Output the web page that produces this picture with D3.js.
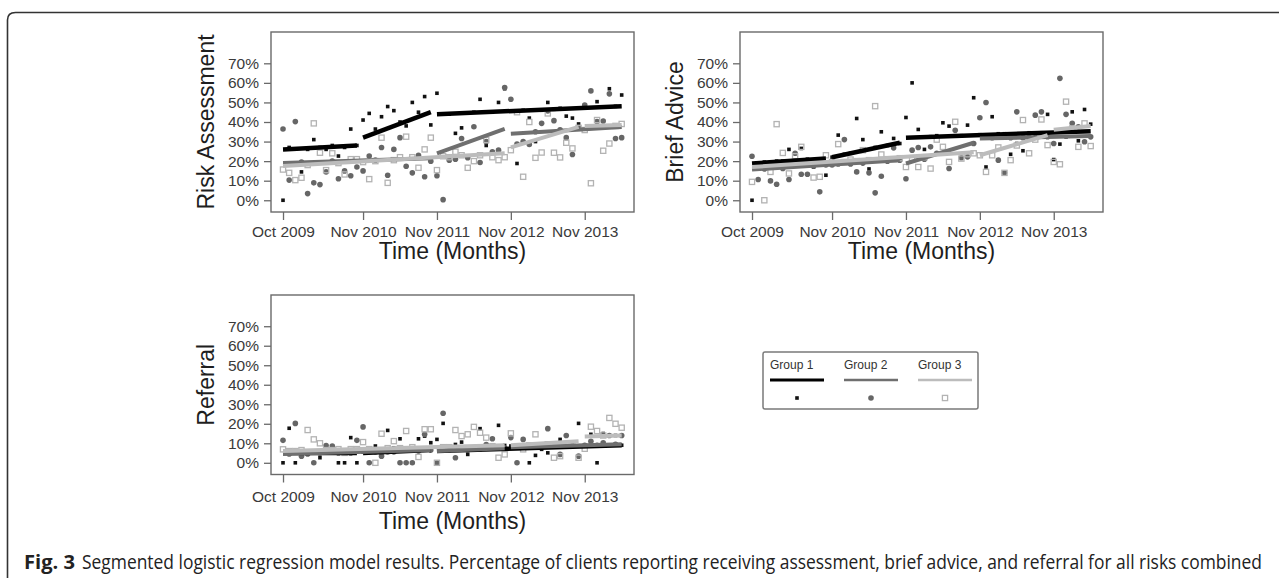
<!DOCTYPE html>
<meta charset="utf-8">
<style>
    body { margin: 0; background: #fff; }
    svg { display: block; font-family: "Liberation Sans", Arial, sans-serif; }
    .axis-title { font-size: 23px; fill: #1e1e1e; }
    .legend-text { font-size: 12px; fill: #333; }
    .caption { font-family: "Open Sans", sans-serif; font-size: 16px; fill: #222; }
</style>
<svg width="1279" height="578"></svg>
<script src="https://d3js.org/d3.v7.min.js"></script>
<script>
    // monthly percentages, index 0 = Oct 2009 ... index 55 = May 2014
    let raGroup1 = [0, 27, 18.5, 14.5, 26, 31, 27, 26, 28, 22.6, 27, 36.4, 28,
        41, 44.4, 36.4, 42.7, 47.9, 45.8, 40, 38, 50, 45, 53, 38.5,
        54.7, 44, 44, 34.2, 37, 44.5, 45, 51.6, 28, 45, 50, 57,
        45.5, 18.8, 46, 42, 30, 46, 50, 46.5, 47, 43, 42, 39,
        47.5, 37.5, 50.4, 37, 57, 48, 53.8];
    let raGroup2 = [36.4, 10.3, 40.2, 19.5, 3.4, 8.9, 8, 14.5, 20, 11, 15, 12.5, 17,
        15, 22.6, 20.5, 27, 12.8, 26, 32, 17.4, 14, 23, 12, 20,
        12.5, 0.3, 20.5, 21, 31.6, 21.7, 37.6, 19.3, 30, 24.8, 25.6, 57.6,
        51.6, 28.7, 30, 28.5, 35, 39.3, 45.6, 40.7, 36, 32, 23.4, 37,
        48.7, 55.9, 40.2, 40.5, 54.4, 31.6, 32];
    let raGroup3 = [15.7, 14, 10.3, 11.5, 18, 39.3, 24.3, 15.4, 24, 19, 13.2, 21, 21,
        19.5, 10.8, 20, 32, 8.9, 20.5, 22, 32.5, 22, 16.6, 26, 32,
        15.4, 22.5, 22, 24.8, 23, 16.6, 20, 23, 30.8, 22, 20.5, 22,
        25.6, 45, 12, 40, 21.7, 24.4, 44.4, 24.3, 21.9, 29.4, 26.5, 37,
        35.9, 8.7, 41, 25.3, 29, 38, 39];

    let baGroup1 = [0, 19, 19.5, 19.5, 20, 20, 26, 20.5, 26.5, 21, 17, 21, 12.8,
        22, 33.3, 23.5, 24, 41.8, 31, 16, 27, 35, 28, 31.6, 29,
        42.3, 60, 36.2, 26, 32.5, 33, 39.6, 37.9, 33, 33, 38.4, 52.4,
        33.5, 17, 42.7, 34, 34, 23.5, 29, 25.3, 34.5, 32.4, 34.5, 43.9,
        20.8, 28.7, 32.4, 45.2, 30.4, 46.4, 38.9];
    let baGroup2 = [22.5, 10.6, 16, 9.9, 8.2, 16.2, 10.6, 24, 13.3, 13.3, 17.5, 4.3, 18,
        18, 18.5, 31, 18.5, 14.5, 19, 14, 3.8, 12.3, 20, 26.8, 20.5,
        11, 25.6, 27, 21, 27.3, 24, 24, 16.2, 35.8, 21.7, 22.2, 29,
        42.2, 50, 32, 20.5, 14, 32, 45.2, 32, 32, 43.5, 45.2, 32.5,
        29, 62.3, 43.9, 39.3, 37.6, 29.9, 32.4];
    let baGroup3 = [9.4, 17, 0, 14.5, 38.9, 24.2, 13.7, 22.5, 27.3, 19, 11.6, 12, 23,
        19.5, 28.7, 19.5, 20.8, 20, 25.6, 20.5, 48.1, 23.4, 21, 21, 21.5,
        17, 21.5, 17, 22, 16.2, 31, 27.3, 19.6, 40.1, 21.3, 23.5, 24,
        23, 14.5, 23, 27, 14, 20.5, 28, 41, 24, 31, 41.3, 28.2,
        19.6, 18.4, 50.4, 36.7, 27.3, 39.3, 27.7];

    let rfGroup1 = [0, 17.7, 0, 5, 5, 6, 2.6, 5, 5, 0, 0, 12.9, 0,
        5.5, 5.5, 8.6, 6, 16.6, 7.7, 12.3, 6, 7.7, 12.3, 13.7, 10.3,
        12, 20.2, 6.5, 9.4, 10.6, 4.3, 7, 17.5, 7, 7.5, 19.2, 8.9,
        8.6, 7.5, 8.6, 0, 3.8, 6.9, 5.1, 8, 12, 8, 8.5, 20.2,
        8.5, 14.6, 0, 15, 9, 14, 9];
    let rfGroup2 = [11.5, 4.5, 20.2, 3.4, 4.5, 0, 5, 8.9, 8.6, 5, 5, 5, 11.5,
        18.4, 0, 5.5, 3.4, 5.5, 5.5, 0, 0, 0, 6, 14.6, 6.5,
        0, 25.4, 6.5, 2.6, 7.7, 6.5, 7, 7, 9.4, 12.3, 7.5, 7.5,
        12.9, 0, 12, 8, 8.5, 8.5, 17.5, 8.5, 4.3, 14, 9, 3.4,
        9, 11, 9, 10.3, 14, 9.5, 14];
    let rfGroup3 = [6.9, 6, 6, 6.5, 16.8, 12, 10, 6.5, 6.5, 7, 5.1, 7, 7,
        10.6, 7, 0, 14.9, 7.5, 11.1, 7.5, 16.3, 8, 3, 17.2, 17.2,
        0, 8, 8, 16.8, 13.7, 14.6, 18.4, 15.4, 12.9, 8.5, 2.6, 4.3,
        15.1, 8.5, 6.9, 9, 14.6, 9, 9.5, 2.6, 3.4, 9.5, 10, 2.6,
        7.2, 18.5, 16.3, 14, 23, 20, 18];

    // segment month ranges per group (pre / first year / after)
    let segmentMonths = [[[0, 12], [13, 24], [25, 55]],
        [[0, 24], [25, 36], [37, 55]],
        [[0, 36], [37, 48], [49, 55]]];
    // fitted start / end value of each segment
    let raFits = [[[26, 28], [32, 45], [44, 48]],
        [[19, 21.5], [24, 36.5], [34, 37.5]],
        [[17.5, 24], [27, 37.5], [38, 38.5]]];
    let baFits = [[[18.8, 21.3], [22, 29.4], [32, 35.3]],
        [[15.7, 20.5], [18.8, 29.4], [31.6, 32.8]],
        [[17, 24.5], [23, 33.3], [36, 38]]];
    let rfFits = [[[5, 5], [5, 6.5], [6, 9]],
        [[4.5, 6.5], [6, 7.5], [8, 9.5]],
        [[6, 9], [9, 11], [13.5, 14]]];

    let groups = ["Group 1", "Group 2", "Group 3"];
    let xTickMonths = [0, 13, 25, 37, 49];
    let xTickLabels = ["Oct 2009", "Nov 2010", "Nov 2011", "Nov 2012", "Nov 2013"];
    let yTicks = [0, 10, 20, 30, 40, 50, 60, 70];

    let lineColor = ["#000", "#6f6f6f", "#bcbcbc"];
    let lineWidth = [4.5, 4, 4];

    let svg = d3.select("svg");

    // outer frame of the figure
    svg.append("path")
        .attr("d", "M7.5,578 V20 Q7.5,12.5 15.5,12.5 H1279")
        .attr("fill", "none")
        .attr("stroke", "#333")
        .attr("stroke-width", 1.6);

    let panels = [
        {title: "Risk Assessment", left: 271, right: 634, top: 32, bottom: 212, labelGap: 6, titleGap: 47,
            series: [raGroup1, raGroup2, raGroup3], fits: raFits},
        {title: "Brief Advice", left: 740, right: 1103, top: 32, bottom: 212, labelGap: 6, titleGap: 47,
            series: [baGroup1, baGroup2, baGroup3], fits: baFits},
        {title: "Referral", left: 271, right: 634, top: 295, bottom: 474.5, labelGap: 8.5, titleGap: 54,
            series: [rfGroup1, rfGroup2, rfGroup3], fits: rfFits}
    ];

    function drawPoint(sel, gi, cx, cy) {
        if (gi === 0) {
            sel.append("rect")
                .attr("x", cx - 1.8).attr("y", cy - 1.8)
                .attr("width", 3.6).attr("height", 3.6)
                .attr("fill", "#111");
        } else if (gi === 1) {
            sel.append("circle")
                .attr("cx", cx).attr("cy", cy).attr("r", 2.8)
                .attr("fill", "#666");
        } else {
            sel.append("rect")
                .attr("x", cx - 2.6).attr("y", cy - 2.6)
                .attr("width", 5.2).attr("height", 5.2)
                .attr("fill", "none")
                .attr("stroke", "#b3b3b3")
                .attr("stroke-width", 1.3);
        }
    }

    panels.forEach(function (p) {
        let x = d3.scaleLinear().domain([-1.95, 57]).range([p.left, p.right]);
        let y = d3.scaleLinear().domain([-6, 86]).range([p.bottom, p.top]);
        let g = svg.append("g");

        // points
        let pts = g.append("g");
        p.series.forEach(function (vals, gi) {
            vals.forEach(function (v, m) {
                drawPoint(pts, gi, x(m), y(v));
            });
        });

        // fitted segments
        p.fits.forEach(function (segs, gi) {
            segs.forEach(function (s, si) {
                let ms = segmentMonths[gi][si];
                g.append("line")
                    .attr("x1", x(ms[0])).attr("y1", y(s[0]))
                    .attr("x2", x(ms[1])).attr("y2", y(s[1]))
                    .attr("stroke", lineColor[gi])
                    .attr("stroke-width", lineWidth[gi]);
            });
        });

        // box
        g.append("rect")
            .attr("x", p.left).attr("y", p.top)
            .attr("width", p.right - p.left).attr("height", p.bottom - p.top)
            .attr("fill", "none")
            .attr("stroke", "#6a6a6a")
            .attr("stroke-width", 1.4);

        let yAxis = g.append("g")
            .attr("transform", `translate(${p.left},0)`)
            .call(d3.axisLeft(y).tickValues(yTicks).tickFormat(d => d + "%").tickSize(7).tickPadding(5));
        let xAxis = g.append("g")
            .attr("transform", `translate(0,${p.bottom})`)
            .call(d3.axisBottom(x).tickValues(xTickMonths).tickFormat((d, i) => xTickLabels[i]).tickSize(8).tickPadding(p.labelGap));
        [yAxis, xAxis].forEach(function (a) {
            a.attr("font-family", "'Liberation Sans', Arial, sans-serif").attr("font-size", 15.5);
            a.select(".domain").remove();
            a.selectAll(".tick line").attr("stroke", "#6a6a6a").attr("stroke-width", 1.3);
            a.selectAll(".tick text").attr("fill", "#3a3a3a");
        });

        g.append("text")
            .attr("class", "axis-title")
            .attr("text-anchor", "middle")
            .attr("x", (p.left + p.right) / 2)
            .attr("y", p.bottom + p.titleGap)
            .text("Time (Months)");

        g.append("text")
            .attr("class", "axis-title")
            .attr("text-anchor", "middle")
            .attr("transform", `translate(${p.left - 57},${(p.top + p.bottom) / 2}) rotate(-90)`)
            .text(p.title);
    });

    // legend
    let legend = svg.append("g");
    legend.append("rect")
        .attr("x", 763).attr("y", 352)
        .attr("width", 215).attr("height", 57)
        .attr("rx", 2)
        .attr("fill", "#fff")
        .attr("stroke", "#7a7a7a")
        .attr("stroke-width", 1.5);
    let legendX = d3.scalePoint().domain(groups).range([770, 918]);
    groups.forEach(function (name, gi) {
        let lx = legendX(name);
        legend.append("text")
            .attr("class", "legend-text")
            .attr("x", lx).attr("y", 369)
            .text(name);
        legend.append("line")
            .attr("x1", lx).attr("x2", lx + 54)
            .attr("y1", 380).attr("y2", 380)
            .attr("stroke", lineColor[gi])
            .attr("stroke-width", gi === 0 ? 3 : 2.5);
        drawPoint(legend, gi, lx + 27, 398);
    });

    // caption, drawn at a smaller size and stretched upward to mimic the condensed face
    let caption = svg.append("g").attr("transform", "translate(0,569) scale(1,1.2)");
    caption.append("text")
        .attr("class", "caption")
        .attr("x", 24).attr("y", 0)
        .attr("font-weight", "bold")
        .attr("textLength", 51)
        .attr("lengthAdjust", "spacingAndGlyphs")
        .text("Fig. 3");
    caption.append("text")
        .attr("class", "caption")
        .attr("x", 82).attr("y", 0)
        .attr("textLength", 1180)
        .attr("lengthAdjust", "spacingAndGlyphs")
        .text("Segmented logistic regression model results. Percentage of clients reporting receiving assessment, brief advice, and referral for all risks combined");
</script>
